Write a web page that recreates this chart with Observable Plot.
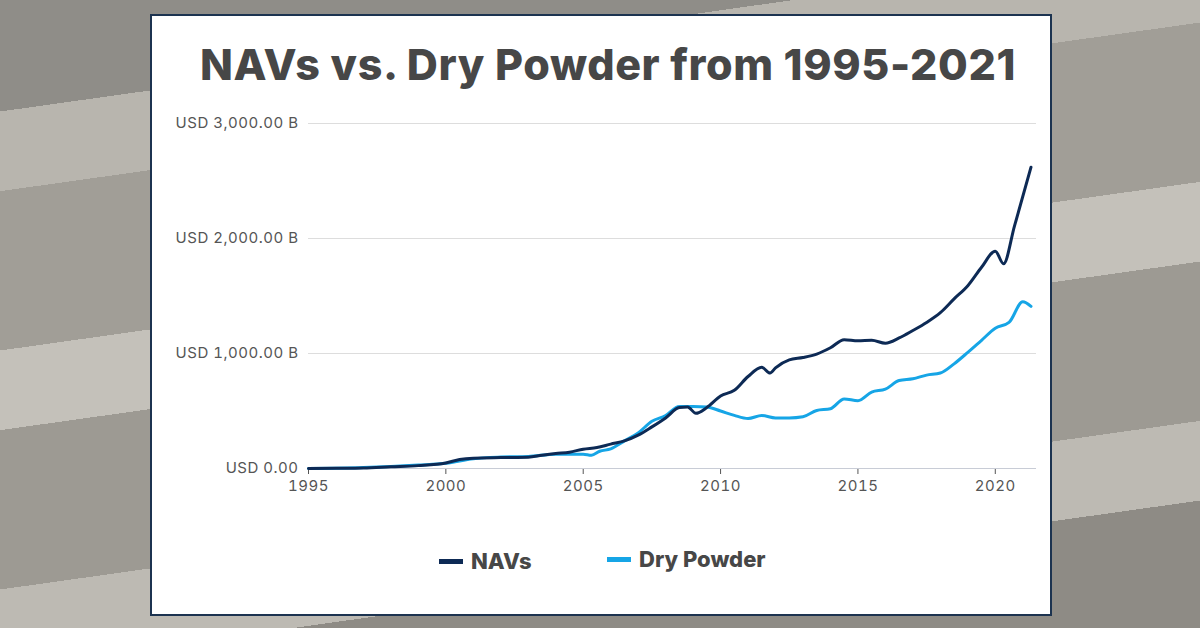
<!DOCTYPE html>
<html><head><meta charset="utf-8">
<script src="https://cdn.jsdelivr.net/npm/d3@7"></script>
<script src="https://cdn.jsdelivr.net/npm/@observablehq/plot@0.6"></script>
<style>
html,body{margin:0;padding:0;width:1200px;height:628px;overflow:hidden;font-family:Inter,"Open Sans",sans-serif}
body{background:
 linear-gradient(172deg,#8f8d88 0 14%,#b8b5ae 14% 24%,#a19e97 24% 44%,#c4c1ba 44% 54%,#9d9a93 54% 74%,#bdbab3 74% 84%,#8e8b85 84% 100%);}
#panel{position:absolute;left:150px;top:14px;width:898px;height:598px;background:#fff;border:2px solid #1c3350;}
#title{position:absolute;left:0;width:100%;top:22px;text-align:center;font-size:43px;font-weight:800;color:#474747;letter-spacing:0.6px;padding-left:14px;box-sizing:border-box}
#chart{position:absolute;left:0;top:86px}
.leg{position:absolute;top:532px;font-size:22px;font-weight:800;color:#474747;display:flex;align-items:center}
.sw{display:inline-block;width:24px;height:5px;margin-right:8px}
</style></head><body>
<div id="panel">
<div id="title">NAVs vs. Dry Powder from 1995-2021</div>
<div id="chart"></div>
<div class="leg" style="left:287px"><span class="sw" style="background:#0d2a55"></span>NAVs</div>
<div class="leg" style="left:455px;top:530px"><span class="sw" style="background:#16a5e6"></span>Dry Powder</div>
</div>
<script>
const navYears = [1995,1996,1997,1998,1999,2000,2000.5,2001,2002,2003,2003.5,2004,2004.5,2005,2005.5,2006,2006.5,2007,2007.5,2008,2008.5,2008.8,2009.1,2009.5,2010,2010.5,2011,2011.5,2011.8,2012,2012.5,2013,2013.5,2014,2014.5,2015,2015.5,2016,2016.5,2017,2017.5,2018,2018.5,2019,2019.5,2020,2020.3,2020.7,2021.3];
const navValues = [0,2,5,15,25,48,78,90,95,98,115,130,142,168,182,212,240,290,362,440,530,535,480,530,630,680,800,880,830,875,945,965,995,1050,1120,1110,1115,1090,1135,1200,1270,1355,1475,1590,1750,1890,1780,2110,2620];
const dpYears = [1995,1997,1998,1999,2000,2001,2002,2003,2004,2005,2005.3,2005.6,2006,2006.5,2007,2007.5,2008,2008.5,2009,2009.5,2010,2010.5,2011,2011.5,2012,2012.5,2013,2013.5,2014,2014.5,2015,2015.5,2016,2016.5,2017,2017.5,2018,2018.5,2019,2019.5,2020,2020.5,2021,2021.3];
const dpValues = [0,8,18,30,45,85,100,105,125,125,115,150,170,240,310,410,460,540,540,535,500,462,435,460,440,440,450,505,520,605,590,665,690,765,780,812,830,910,1010,1115,1220,1270,1450,1410];
const yTicks = [0,1000,2000,3000];
const xTicks = [1995,2000,2005,2010,2015,2020];

const nav = navYears.map((x,i)=>({x,y:navValues[i]}));
const dp = dpYears.map((x,i)=>({x,y:dpValues[i]}));
const fmt = v => "USD " + d3.format(",.2f")(v) + (v ? " B" : "");
const chart = Plot.plot({
  width:898, height:420, marginLeft:156, marginRight:14, marginTop:21, marginBottom:54,
  style:{fontFamily:"Inter, sans-serif", fontSize:"15px", color:"#555", background:"transparent", letterSpacing:"0.5px"},
  x:{domain:[1995,2021.5], ticks:xTicks, tickFormat:d=>String(d), label:null, tickSize:6, tickPadding:6},
  y:{domain:[0,3000], ticks:yTicks, tickFormat:fmt, label:null, tickSize:0, tickPadding:10},
  marks:[
    Plot.gridY(yTicks,{stroke:"#ddd", strokeOpacity:1}),
    Plot.ruleY([0],{stroke:"#c8ccd6"}),
    Plot.line(dp,{x:"x",y:"y",stroke:"#16a5e6",strokeWidth:3,curve:"monotone-x"}),
    Plot.line(nav,{x:"x",y:"y",stroke:"#0d2a55",strokeWidth:3,curve:"monotone-x"})
  ]
});
document.getElementById("chart").append(chart);
</script>
</body></html>
